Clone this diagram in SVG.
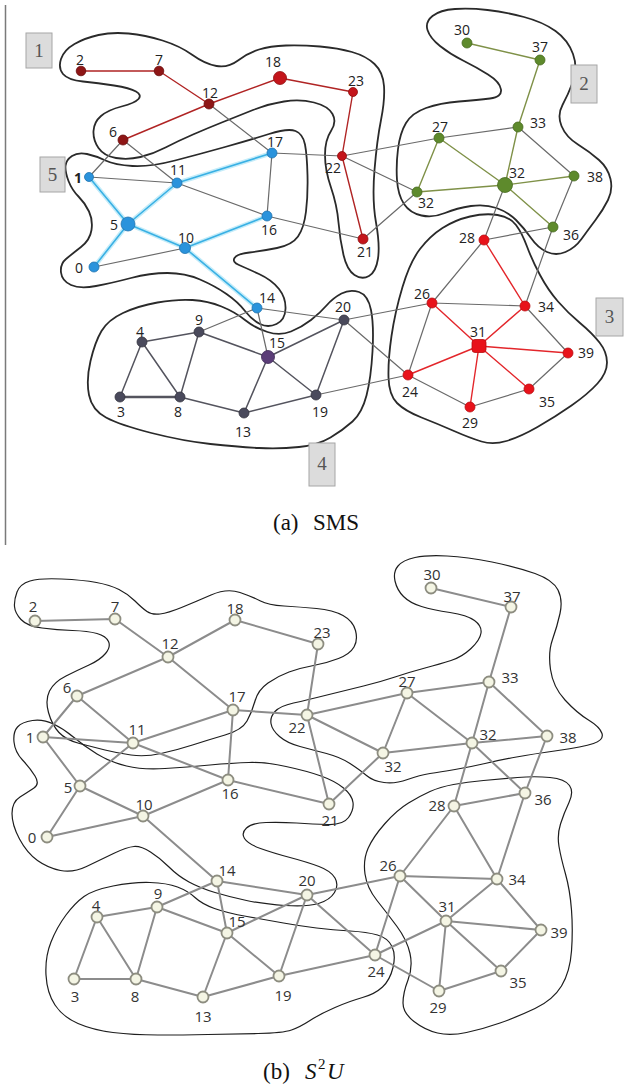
<svg xmlns="http://www.w3.org/2000/svg" width="624" height="1089" viewBox="0 0 624 1089">
<style>
  .bg{fill:#ffffff}
  .rule{stroke:#7a7a7a;stroke-width:1.5}
  .regA{fill:none;stroke:#2a2a2a;stroke-width:1.8}
  .regB{fill:none;stroke:#1e1e1e;stroke-width:1.2}
  .box{fill:#dcdcdc;stroke:#a6a6a6;stroke-width:1}
  .boxt{font-family:"Liberation Serif",serif;font-size:19px;fill:#555;text-anchor:middle}
  .eR{fill:none;stroke:#b02424;stroke-width:1.4}
  .eBg{fill:none;stroke:#c4ecf9;stroke-width:4.5;stroke-linecap:round}
  .eB{fill:none;stroke:#39b0e4;stroke-width:1.6}
  .eG{fill:none;stroke:#7f9148;stroke-width:1.4}
  .eR3{fill:none;stroke:#e3262b;stroke-width:1.4}
  .eD{fill:none;stroke:#54545e;stroke-width:1.5}
  .eN{fill:none;stroke:#6a6a6a;stroke-width:1.2}
  .eS{fill:none;stroke:#8c8c8c;stroke-width:2}
  .c1d{fill:#8e1616;stroke:#6a0c0c;stroke-width:0.8}
  .c1{fill:#c4151b;stroke:#8e0e0e;stroke-width:0.8}
  .c5{fill:#2a93dc;stroke:#1f74b0;stroke-width:0.8}
  .c2{fill:#5e8a2c;stroke:#466a1e;stroke-width:0.8}
  .c3{fill:#e8121a;stroke:#b80c10;stroke-width:0.8}
  .c4{fill:#4a4a5c;stroke:#33333f;stroke-width:0.8}
  .c4p{fill:#5b3d78;stroke:#3e2856;stroke-width:0.8}
  .cb{fill:#f4f5e4;stroke:#8d8d80;stroke-width:1.8}
  .la{font-family:"Open Sans",sans-serif;font-size:14px;fill:#222;text-anchor:middle}
  .lb{font-family:"Open Sans",sans-serif;font-size:15px;fill:#333;text-anchor:middle}
  .cap{font-family:"Liberation Serif",serif;font-size:23px;fill:#111}
</style>
<rect class="bg" x="0" y="0" width="624" height="1089"/>

<!-- ===== (a) SMS ===== -->
<line class="rule" x1="5.5" y1="5" x2="5.5" y2="545"/>

<g id="sms-regions">
  <path id="sms-region-1" class="regA" d="M63 74 Q58 68 61 59 Q64 50 74.5 44 Q85 38 98.5 35 Q112 32 128.5 33.5 Q145 35 162.5 40.5 Q180 46 192.5 55 Q205 64 216.5 66 Q228 68 238 60.5 Q248 53 259 49.5 Q270 46 286 45.5 Q302 45 320 46.5 Q338 48 352 52 Q366 56 374.5 64 Q383 72 384 86 Q385 100 381 120 Q377 140 374.5 170 Q372 200 376 222.5 Q380 245 378 258.5 Q376 272 369 276 Q362 280 354.5 275 Q347 270 343.5 255 Q340 240 338.5 222.5 Q337 205 331 187.5 Q325 170 325 155 Q325 140 331 131 Q337 122 332.5 114 Q328 106 314 102.5 Q300 99 284 101.5 Q268 104 253 110 Q238 116 223 122 Q208 128 193 134.5 Q178 141 165.5 147.5 Q153 154 140.5 157 Q128 160 116 158 Q104 156 98.5 148 Q93 140 93.5 131 Q94 122 101 116 Q108 110 121.5 106.5 Q135 103 138.5 99 Q142 95 136 91.5 Q130 88 114 85.5 Q98 83 83 81.5 Q68 80 63 74 Z"/>
  <path id="sms-region-5" class="regA" d="M65.5 166 Q66 160 72 156 Q78 152 87 154 Q96 156 105.5 160.5 Q115 165 132.5 166 Q150 167 175 160.5 Q200 154 225 147 Q250 140 269 134 Q288 128 295.5 131 Q303 134 305 144.5 Q307 155 307.5 175 Q308 195 306 211.5 Q304 228 298 236.5 Q292 245 277 248 Q262 251 249.5 252.5 Q237 254 234.5 258 Q232 262 239 265 Q246 268 259 274 Q272 280 279 289 Q286 298 285.5 309 Q285 320 276.5 324 Q268 328 260 324 Q252 320 245 311 Q238 302 226.5 294 Q215 286 200 279.5 Q185 273 167.5 273 Q150 273 131 278 Q112 283 96 286 Q80 289 71 285 Q62 281 61 272.5 Q60 264 66 259 Q72 254 81 247 Q90 240 91.5 230 Q93 220 89 211.5 Q85 203 78.5 196.5 Q72 190 68.5 181 Q65 172 65.5 166 Z"/>
  <path id="sms-region-2" class="regA" d="M427.5 30 Q425 22 432.5 16 Q440 10 455 9 Q470 8 487.5 10 Q505 12 524 17 Q543 22 555.5 31 Q568 40 573 54 Q578 68 573 81.5 Q568 95 562.5 105 Q557 115 561.5 126 Q566 137 578 144.5 Q590 152 599 160 Q608 168 610.5 179 Q613 190 608 200 Q603 210 595.5 220 Q588 230 581.5 239 Q575 248 565.5 252 Q556 256 547 252 Q538 248 531 238 Q524 228 516 220 Q508 212 496.5 208 Q485 204 471 206 Q457 208 445 213 Q433 218 421.5 215.5 Q410 213 404 204 Q398 195 397 180 Q396 165 398 149 Q400 133 406 123 Q412 113 426 108 Q440 103 459 101.5 Q478 100 490 98.5 Q502 97 501 89.5 Q500 82 488 74.5 Q476 67 463 60.5 Q450 54 440 46 Q430 38 427.5 30 Z"/>
  <path id="sms-region-3" class="regA" d="M420 249 Q430 236 442.5 228 Q455 220 470 216.5 Q485 213 497.5 215 Q510 217 516 225 Q522 233 527 246.5 Q532 260 540 275 Q548 290 558 301.5 Q568 313 580 323 Q592 333 599.5 342.5 Q607 352 607 362.5 Q607 373 597.5 383.5 Q588 394 571.5 405.5 Q555 417 537.5 427 Q520 437 506.5 441 Q493 445 481.5 441.5 Q470 438 454 431 Q438 424 421.5 417.5 Q405 411 397 403 Q389 395 388.5 377.5 Q388 360 391.5 336 Q395 312 402.5 287 Q410 262 420 249 Z"/>
  <path id="sms-region-4" class="regA" d="M90.5 361 Q95 342 101.5 331 Q108 320 123 313 Q138 306 157.5 302.5 Q177 299 192.5 300 Q208 301 221.5 306.5 Q235 312 245 320 Q255 328 267.5 332 Q280 336 291 331.5 Q302 327 311 320 Q320 313 326.5 305.5 Q333 298 341.5 293.5 Q350 289 359 292 Q368 295 371 310 Q374 325 372.5 351.5 Q371 378 366.5 395.5 Q362 413 352.5 421.5 Q343 430 330.5 437.5 Q318 445 299 447 Q280 449 259 448 Q238 447 210.5 444 Q183 441 151.5 433 Q120 425 106 417.5 Q92 410 89 395 Q86 380 90.5 361 Z"/>
</g>

<g id="sms-region-tags">
  <g id="sms-tag-1"><rect class="box" x="26" y="33" width="26" height="35"/><text class="boxt" x="39" y="57">1</text></g>
  <g id="sms-tag-5"><rect class="box" x="40" y="157" width="25" height="35"/><text class="boxt" x="52.5" y="181">5</text></g>
  <g id="sms-tag-2"><rect class="box" x="571" y="65" width="26" height="38"/><text class="boxt" x="584" y="90">2</text></g>
  <g id="sms-tag-3"><rect class="box" x="596" y="298" width="27" height="38"/><text class="boxt" x="609.5" y="323">3</text></g>
  <g id="sms-tag-4"><rect class="box" x="309" y="443" width="26" height="43"/><text class="boxt" x="322" y="470">4</text></g>
</g>

<g id="sms-connectors">
  <path class="eN" d="M123 140L89 177 M123 140L177 183 M209 104L272 153 M272 153L267 216 M89 177L177 183 M177 183L267 216 M267 216L363 239 M272 153L342 156 M342 156L439 138 M342 156L417 192 M363 239L417 192 M439 138L518 127 M574 176L553 227 M505 185L484 240 M484 240L553 227 M484 240L432 303 M432 303L525 306 M553 227L525 306 M432 303L408 375 M432 303L344 320 M525 306L568 353 M568 353L529 389 M529 389L470 407 M470 407L408 375 M408 375L344 320 M408 375L316 395 M257 308L344 320 M257 308L268 357 M257 308L199 332 M94 267L185 248 M518 127L574 176"/>
  <path class="eR" d="M81 71L159 71 M159 71L209 104 M209 104L280 78 M280 78L353 92 M353 92L342 156 M342 156L363 239 M209 104L123 140"/>
  <path class="eBg" d="M89 177L128 224 M128 224L177 183 M177 183L272 153 M128 224L94 267 M128 224L185 248 M185 248L267 216 M185 248L257 308"/>
  <path class="eB" d="M89 177L128 224 M128 224L177 183 M177 183L272 153 M128 224L94 267 M128 224L185 248 M185 248L267 216 M185 248L257 308"/>
  <path class="eG" d="M467 43L540 60 M540 60L518 127 M518 127L505 185 M439 138L505 185 M505 185L574 176 M505 185L553 227 M439 138L417 192 M417 192L505 185"/>
  <path class="eR3" d="M484 240L525 306 M432 303L479 346 M525 306L479 346 M479 346L568 353 M479 346L529 389 M479 346L470 407 M479 346L408 375"/>
  <path class="eD" d="M142 342L199 332 M142 342L120 397 M142 342L180 397 M199 332L180 397 M199 332L268 357 M180 397L244 413 M244 413L268 357 M244 413L316 395 M268 357L316 395 M344 320L316 395 M344 320L268 357"/>
  <path class="eD" style="stroke-width:2.4" d="M120 397L180 397"/>
</g>

<g id="sms-nodes">
  <g id="sms-n2"><circle class="c1d" cx="81" cy="71" r="4.8"/><text class="la" x="80" y="65">2</text></g>
  <g id="sms-n7"><circle class="c1d" cx="159" cy="71" r="4.8"/><text class="la" x="159" y="65">7</text></g>
  <g id="sms-n12"><circle class="c1d" cx="209" cy="104" r="5"/><text class="la" x="210" y="98">12</text></g>
  <g id="sms-n18"><circle class="c1" cx="280" cy="78" r="6.5"/><text class="la" x="273" y="67">18</text></g>
  <g id="sms-n23"><circle class="c1" cx="353" cy="92" r="4.5"/><text class="la" x="356" y="86">23</text></g>
  <g id="sms-n6"><circle class="c1d" cx="123" cy="140" r="5"/><text class="la" x="113" y="137">6</text></g>
  <g id="sms-n22"><circle class="c1" cx="342" cy="156" r="4.5"/><text class="la" x="333" y="173">22</text></g>
  <g id="sms-n21"><circle class="c1" cx="363" cy="239" r="5"/><text class="la" x="365" y="257">21</text></g>
  <g id="sms-n1"><circle class="c5" cx="89" cy="177" r="4.5"/><text class="la" x="78" y="183" font-weight="bold">1</text></g>
  <g id="sms-n11"><circle class="c5" cx="177" cy="183" r="5"/><text class="la" x="178" y="175">11</text></g>
  <g id="sms-n17"><circle class="c5" cx="272" cy="153" r="5"/><text class="la" x="275" y="147">17</text></g>
  <g id="sms-n5"><circle class="c5" cx="128" cy="224" r="7"/><text class="la" x="114" y="230">5</text></g>
  <g id="sms-n16"><circle class="c5" cx="267" cy="216" r="5"/><text class="la" x="269" y="235">16</text></g>
  <g id="sms-n10"><circle class="c5" cx="185" cy="248" r="5.5"/><text class="la" x="186" y="243">10</text></g>
  <g id="sms-n0"><circle class="c5" cx="94" cy="267" r="5"/><text class="la" x="79" y="273">0</text></g>
  <g id="sms-n14"><circle class="c5" cx="257" cy="308" r="5"/><text class="la" x="267" y="303">14</text></g>
  <g id="sms-n30"><circle class="c2" cx="467" cy="43" r="5"/><text class="la" x="462" y="35">30</text></g>
  <g id="sms-n37"><circle class="c2" cx="540" cy="60" r="5"/><text class="la" x="540" y="52">37</text></g>
  <g id="sms-n33"><circle class="c2" cx="518" cy="127" r="5"/><text class="la" x="538" y="128">33</text></g>
  <g id="sms-n27"><circle class="c2" cx="439" cy="138" r="5"/><text class="la" x="440" y="132">27</text></g>
  <g id="sms-n32b"><circle class="c2" cx="505" cy="185" r="7.5"/><text class="la" x="517" y="178">32</text></g>
  <g id="sms-n32s"><circle class="c2" cx="417" cy="192" r="5"/><text class="la" x="426" y="208">32</text></g>
  <g id="sms-n38"><circle class="c2" cx="574" cy="176" r="5"/><text class="la" x="595" y="182">38</text></g>
  <g id="sms-n36"><circle class="c2" cx="553" cy="227" r="5"/><text class="la" x="571" y="240">36</text></g>
  <g id="sms-n28"><circle class="c3" cx="484" cy="240" r="5"/><text class="la" x="467" y="243">28</text></g>
  <g id="sms-n26"><circle class="c3" cx="432" cy="303" r="5"/><text class="la" x="422" y="299">26</text></g>
  <g id="sms-n34"><circle class="c3" cx="525" cy="306" r="5"/><text class="la" x="546" y="312">34</text></g>
  <g id="sms-n31"><rect class="c3" x="472" y="339.5" width="14" height="13" rx="3"/><text class="la" x="478" y="337">31</text></g>
  <g id="sms-n39"><circle class="c3" cx="568" cy="353" r="5"/><text class="la" x="586" y="358">39</text></g>
  <g id="sms-n24"><circle class="c3" cx="408" cy="375" r="5"/><text class="la" x="410" y="397">24</text></g>
  <g id="sms-n35"><circle class="c3" cx="529" cy="389" r="5"/><text class="la" x="547" y="407">35</text></g>
  <g id="sms-n29"><circle class="c3" cx="470" cy="407" r="5"/><text class="la" x="470" y="428">29</text></g>
  <g id="sms-n4"><circle class="c4" cx="142" cy="342" r="5"/><text class="la" x="140" y="337">4</text></g>
  <g id="sms-n9"><circle class="c4" cx="199" cy="332" r="5"/><text class="la" x="199" y="325">9</text></g>
  <g id="sms-n3"><circle class="c4" cx="120" cy="397" r="5"/><text class="la" x="121" y="417">3</text></g>
  <g id="sms-n8"><circle class="c4" cx="180" cy="397" r="5"/><text class="la" x="178" y="417">8</text></g>
  <g id="sms-n13"><circle class="c4" cx="244" cy="413" r="5"/><text class="la" x="243" y="437">13</text></g>
  <g id="sms-n15"><circle class="c4p" cx="268" cy="357" r="6.5"/><text class="la" x="277" y="348">15</text></g>
  <g id="sms-n19"><circle class="c4" cx="316" cy="395" r="5"/><text class="la" x="320" y="417">19</text></g>
  <g id="sms-n20"><circle class="c4" cx="344" cy="320" r="5"/><text class="la" x="343" y="312">20</text></g>
</g>

<text id="caption-a" class="cap" y="530"><tspan x="273">(a)</tspan><tspan x="313">SMS</tspan></text>

<!-- ===== (b) S2U ===== -->
<g id="s2u-regions">
  <path id="s2u-region-top" class="regB" d="M14.5 606.5 Q14 600 17 592 Q20 584 30 581 Q40 578 61.5 579 Q83 580 96.5 582.5 Q110 585 119 589.5 Q128 594 135 601 Q142 608 147 611.5 Q152 615 160 614 Q168 613 181.5 607.5 Q195 602 211 595 Q227 588 240 592.5 Q253 597 260.5 601 Q268 605 284 606 Q300 607 316.5 608.5 Q333 610 343 615.5 Q353 621 355.5 630.5 Q358 640 354 647 Q350 654 338.5 658.5 Q327 663 313.5 665.5 Q300 668 289 672 Q278 676 268 683 Q258 690 255 701 Q252 712 247 721 Q242 730 225 735 Q208 740 192.5 745 Q177 750 161 753.5 Q145 757 131 755 Q117 753 105 750 Q93 747 79.5 743.5 Q66 740 59 732.5 Q52 725 48.5 712.5 Q45 700 49.5 691 Q54 682 66 676 Q78 670 89 665 Q100 660 105.5 653.5 Q111 647 108.5 641.5 Q106 636 97 633.5 Q88 631 72.5 630.5 Q57 630 42 628 Q27 626 21 619.5 Q15 613 14.5 606.5 Z"/>
  <path id="s2u-region-left" class="regB" d="M14 742 Q13 732 17.5 727 Q22 722 32.5 720.5 Q43 719 53.5 724 Q64 729 74 737.5 Q84 746 97 754 Q110 762 126.5 766 Q143 770 165 768.5 Q187 767 210 765 Q233 763 249 762.5 Q265 762 286 766.5 Q307 771 321 776 Q335 781 343.5 788 Q352 795 353 802.5 Q354 810 348.5 817.5 Q343 825 328 824.5 Q313 824 296.5 823 Q280 822 266 822.5 Q252 823 246.5 828 Q241 833 244.5 838.5 Q248 844 260.5 848.5 Q273 853 290 857.5 Q307 862 319 866.5 Q331 871 335 878 Q339 885 334.5 892.5 Q330 900 318.5 903.5 Q307 907 285 905.5 Q263 904 246.5 900.5 Q230 897 215 892.5 Q200 888 189 882 Q178 876 169 867 Q160 858 150.5 852 Q141 846 134 846.5 Q127 847 113.5 853.5 Q100 860 86.5 866.5 Q73 873 60.5 870.5 Q48 868 37.5 860.5 Q27 853 19.5 839 Q12 825 12 813.5 Q12 802 20 797 Q28 792 34 788 Q40 784 35 776 Q30 768 22.5 760 Q15 752 14 742 Z"/>
  <path id="s2u-region-upper-right" class="regB" d="M271 723.5 Q270 717 275 711.5 Q280 706 293.5 703 Q307 700 327 695 Q347 690 363.5 686 Q380 682 395 677 Q410 672 425 668 Q440 664 451 660.5 Q462 657 471 648.5 Q480 640 481 633 Q482 626 474.5 620.5 Q467 615 450 612.5 Q433 610 421.5 606.5 Q410 603 403.5 596.5 Q397 590 395 581 Q393 572 398 566 Q403 560 415 557.5 Q427 555 447 556 Q467 557 492 562 Q517 567 535 573.5 Q553 580 558 590 Q563 600 560 613.5 Q557 627 552.5 639.5 Q548 652 550.5 669.5 Q553 687 565 700 Q577 713 588.5 720 Q600 727 602 733.5 Q604 740 593.5 743.5 Q583 747 558 750.5 Q533 754 516.5 757 Q500 760 485 763.5 Q470 767 455 769.5 Q440 772 430 773.5 Q420 775 407.5 779.5 Q395 784 384 782.5 Q373 781 366.5 775.5 Q360 770 350 763.5 Q340 757 326.5 753.5 Q313 750 300 746.5 Q287 743 279.5 736.5 Q272 730 271 723.5 Z"/>
  <path id="s2u-region-lower-right" class="regB" d="M408.5 803 Q420 796 430 791.5 Q440 787 453.5 784.5 Q467 782 483.5 780.5 Q500 779 517.5 777.5 Q535 776 550 777.5 Q565 779 569.5 785.5 Q574 792 569 802.5 Q564 813 560.5 824 Q557 835 559 846.5 Q561 858 565.5 874 Q570 890 571.5 910 Q573 930 571.5 951 Q570 972 561.5 986 Q553 1000 535 1008.5 Q517 1017 500 1023 Q483 1029 466.5 1032.5 Q450 1036 437.5 1033 Q425 1030 414 1021.5 Q403 1013 403 1003 Q403 993 408 980 Q413 967 410 953.5 Q407 940 397 926.5 Q387 913 377 900.5 Q367 888 365 874 Q363 860 368 848.5 Q373 837 385 823.5 Q397 810 408.5 803 Z"/>
  <path id="s2u-region-bottom" class="regB" d="M84 896.5 Q93 890 113 886 Q133 882 150 882.5 Q167 883 177.5 887 Q188 891 195 897.5 Q202 904 214.5 908.5 Q227 913 247 916.5 Q267 920 283.5 923 Q300 926 316.5 928 Q333 930 350 931 Q367 932 377.5 935 Q388 938 392 946.5 Q396 955 393 967.5 Q390 980 382.5 987 Q375 994 362.5 997.5 Q350 1001 335 1007.5 Q320 1014 310 1020.5 Q300 1027 291.5 1030 Q283 1033 258 1033.5 Q233 1034 208 1034.5 Q183 1035 158 1035 Q133 1035 113 1032.5 Q93 1030 78 1023.5 Q63 1017 55 1005 Q47 993 46 975 Q45 957 51 942 Q57 927 66 915 Q75 903 84 896.5 Z"/>
</g>

<g id="s2u-connectors">
  <path class="eS" d="M35 621L115 619 M115 619L168 657 M168 657L235 620 M235 620L318 644 M318 644L307 715 M168 657L77 696 M168 657L233 710 M77 696L43 737 M77 696L133 743 M43 737L133 743 M43 737L80 786 M80 786L133 743 M133 743L233 710 M133 743L228 780 M80 786L47 837 M80 786L143 816 M47 837L143 816 M143 816L228 780 M143 816L217 881 M233 710L228 780 M233 710L307 715 M228 780L329 804 M307 715L329 804 M307 715L407 693 M307 715L383 753 M329 804L383 753 M407 693L383 753 M407 693L489 682 M407 693L472 743 M383 753L472 743 M431 588L511 607 M511 607L489 682 M489 682L472 743 M489 682L547 736 M472 743L547 736 M472 743L525 793 M547 736L525 793 M472 743L454 806 M454 806L525 793 M454 806L400 876 M454 806L497 879 M525 793L497 879 M400 876L497 879 M400 876L446 921 M400 876L375 955 M400 876L307 895 M497 879L446 921 M497 879L541 930 M446 921L541 930 M446 921L501 971 M446 921L439 991 M446 921L375 955 M541 930L501 971 M501 971L439 991 M439 991L375 955 M375 955L307 895 M375 955L279 976 M307 895L279 976 M307 895L227 933 M307 895L217 881 M217 881L227 933 M217 881L157 907 M157 907L97 917 M157 907L136 979 M157 907L227 933 M97 917L74 979 M97 917L136 979 M74 979L136 979 M136 979L203 997 M203 997L227 933 M203 997L279 976 M227 933L279 976"/>
</g>

<g id="s2u-nodes">
  <g id="s2u-n2"><circle class="cb" cx="35" cy="621" r="5.5"/><text class="lb" x="33" y="612">2</text></g>
  <g id="s2u-n7"><circle class="cb" cx="115" cy="619" r="5.5"/><text class="lb" x="115" y="612">7</text></g>
  <g id="s2u-n18"><circle class="cb" cx="235" cy="620" r="5.5"/><text class="lb" x="235" y="614">18</text></g>
  <g id="s2u-n12"><circle class="cb" cx="168" cy="657" r="5.5"/><text class="lb" x="170" y="649">12</text></g>
  <g id="s2u-n23"><circle class="cb" cx="318" cy="644" r="5.5"/><text class="lb" x="322" y="638">23</text></g>
  <g id="s2u-n6"><circle class="cb" cx="77" cy="696" r="5.5"/><text class="lb" x="67" y="693">6</text></g>
  <g id="s2u-n17"><circle class="cb" cx="233" cy="710" r="5.5"/><text class="lb" x="237" y="702">17</text></g>
  <g id="s2u-n22"><circle class="cb" cx="307" cy="715" r="5.5"/><text class="lb" x="297" y="733">22</text></g>
  <g id="s2u-n1"><circle class="cb" cx="43" cy="737" r="5.5"/><text class="lb" x="30" y="743">1</text></g>
  <g id="s2u-n11"><circle class="cb" cx="133" cy="743" r="5.5"/><text class="lb" x="137" y="735">11</text></g>
  <g id="s2u-n5"><circle class="cb" cx="80" cy="786" r="5.5"/><text class="lb" x="68" y="793">5</text></g>
  <g id="s2u-n16"><circle class="cb" cx="228" cy="780" r="5.5"/><text class="lb" x="230" y="799">16</text></g>
  <g id="s2u-n10"><circle class="cb" cx="143" cy="816" r="5.5"/><text class="lb" x="144" y="810">10</text></g>
  <g id="s2u-n0"><circle class="cb" cx="47" cy="837" r="5.5"/><text class="lb" x="32" y="843">0</text></g>
  <g id="s2u-n21"><circle class="cb" cx="329" cy="804" r="5.5"/><text class="lb" x="330" y="826">21</text></g>
  <g id="s2u-n30"><circle class="cb" cx="431" cy="588" r="5.5"/><text class="lb" x="432" y="580">30</text></g>
  <g id="s2u-n37"><circle class="cb" cx="511" cy="607" r="5.5"/><text class="lb" x="512" y="602">37</text></g>
  <g id="s2u-n27"><circle class="cb" cx="407" cy="693" r="5.5"/><text class="lb" x="407" y="687">27</text></g>
  <g id="s2u-n33"><circle class="cb" cx="489" cy="682" r="5.5"/><text class="lb" x="510" y="683">33</text></g>
  <g id="s2u-n32s"><circle class="cb" cx="383" cy="753" r="5.5"/><text class="lb" x="393" y="772">32</text></g>
  <g id="s2u-n32b"><circle class="cb" cx="472" cy="743" r="5.5"/><text class="lb" x="488" y="740">32</text></g>
  <g id="s2u-n38"><circle class="cb" cx="547" cy="736" r="5.5"/><text class="lb" x="568" y="743">38</text></g>
  <g id="s2u-n36"><circle class="cb" cx="525" cy="793" r="5.5"/><text class="lb" x="543" y="805">36</text></g>
  <g id="s2u-n28"><circle class="cb" cx="454" cy="806" r="5.5"/><text class="lb" x="437" y="811">28</text></g>
  <g id="s2u-n26"><circle class="cb" cx="400" cy="876" r="5.5"/><text class="lb" x="388" y="871">26</text></g>
  <g id="s2u-n34"><circle class="cb" cx="497" cy="879" r="5.5"/><text class="lb" x="517" y="885">34</text></g>
  <g id="s2u-n31"><circle class="cb" cx="446" cy="921" r="5.5"/><text class="lb" x="447" y="912">31</text></g>
  <g id="s2u-n39"><circle class="cb" cx="541" cy="930" r="5.5"/><text class="lb" x="559" y="938">39</text></g>
  <g id="s2u-n24"><circle class="cb" cx="375" cy="955" r="5.5"/><text class="lb" x="376" y="977">24</text></g>
  <g id="s2u-n35"><circle class="cb" cx="501" cy="971" r="5.5"/><text class="lb" x="518" y="988">35</text></g>
  <g id="s2u-n29"><circle class="cb" cx="439" cy="991" r="5.5"/><text class="lb" x="438" y="1013">29</text></g>
  <g id="s2u-n14"><circle class="cb" cx="217" cy="881" r="5.5"/><text class="lb" x="227" y="876">14</text></g>
  <g id="s2u-n20"><circle class="cb" cx="307" cy="895" r="5.5"/><text class="lb" x="307" y="886">20</text></g>
  <g id="s2u-n9"><circle class="cb" cx="157" cy="907" r="5.5"/><text class="lb" x="158" y="899">9</text></g>
  <g id="s2u-n4"><circle class="cb" cx="97" cy="917" r="5.5"/><text class="lb" x="96" y="911">4</text></g>
  <g id="s2u-n15"><circle class="cb" cx="227" cy="933" r="5.5"/><text class="lb" x="237" y="927">15</text></g>
  <g id="s2u-n3"><circle class="cb" cx="74" cy="979" r="5.5"/><text class="lb" x="75" y="1002">3</text></g>
  <g id="s2u-n8"><circle class="cb" cx="136" cy="979" r="5.5"/><text class="lb" x="135" y="1002">8</text></g>
  <g id="s2u-n13"><circle class="cb" cx="203" cy="997" r="5.5"/><text class="lb" x="203" y="1022">13</text></g>
  <g id="s2u-n19"><circle class="cb" cx="279" cy="976" r="5.5"/><text class="lb" x="283" y="1001">19</text></g>
</g>

<text id="caption-b" class="cap" y="1079"><tspan x="263">(b)</tspan><tspan x="305" font-style="italic">S</tspan><tspan x="318" y="1069" font-size="15">2</tspan><tspan x="327" y="1079" font-style="italic">U</tspan></text>
</svg>
